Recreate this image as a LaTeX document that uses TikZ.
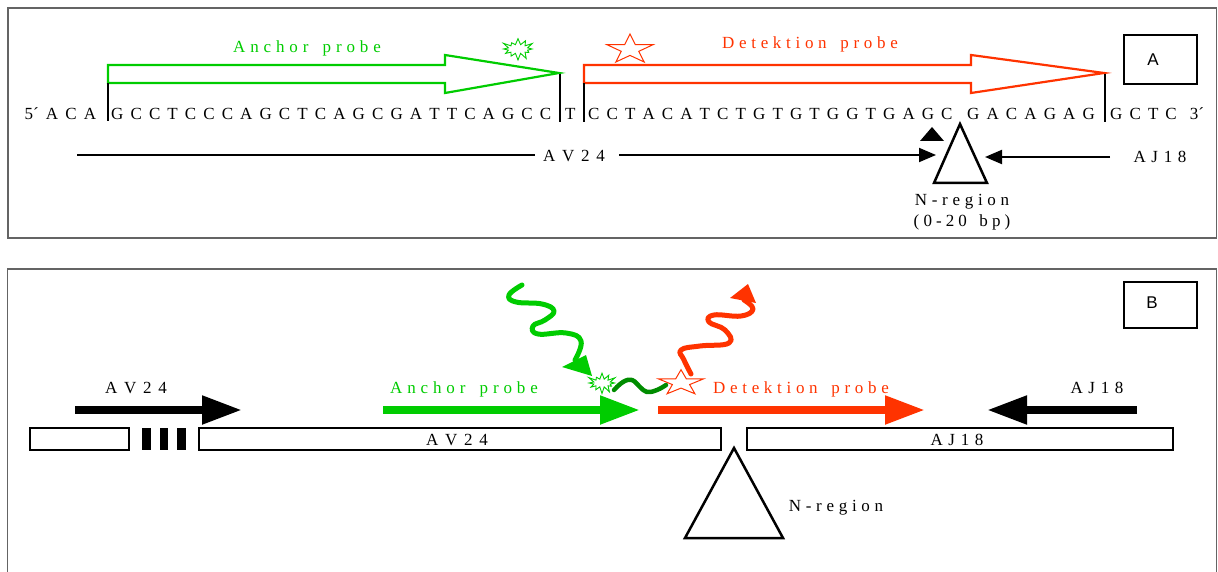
\documentclass[tikz,border=0pt]{standalone}
\usepackage{fontspec}
\setmainfont{Liberation Serif}
\newfontfamily\sansf{Liberation Sans}
\usetikzlibrary{arrows.meta,shapes.symbols}
\definecolor{agreen}{RGB}{0,204,0}
\definecolor{ared}{RGB}{255,51,0}
\definecolor{dgreen}{RGB}{0,140,0}
\definecolor{bordergray}{RGB}{100,100,100}
\newlength\lsp
\def\spcend{\spcend}
\def\spcgobble#1{}
\def\spcA#1{#1\futurelet\spcnext\spcB}
\def\spcB{\ifx\spcnext\spcend\expandafter\spcgobble\else\hspace{\lsp}\expandafter\spcA\fi}
\newcommand\ls[2]{{\setlength\lsp{#1}\spcA#2\spcend}}
\begin{document}
\begin{tikzpicture}[x=1pt,y=-1pt,
  font=\fontsize{17}{20}\selectfont,
  seq/.style={anchor=base west, inner sep=0pt},
  lbl/.style={anchor=base, inner sep=0pt},
  hollow/.style={line width=2.2pt, line join=miter},
  tick/.style={line width=1.4pt},
  thinarrow/.style={line width=2pt, -{Triangle[length=17pt,width=14pt]}},
  fatarrow/.style={line width=8pt, -{Triangle[length=40pt,width=27pt]}},
  strip/.style={draw, line width=2pt},
  wave/.style={line width=5pt, line cap=round, line join=round},
  border/.style={draw=bordergray, line width=1.5pt},
  burst/.style={starburst, draw=agreen, line width=0.9pt, starburst points=12,
     starburst point height=7pt, random starburst=60, inner sep=0pt},
  letterbox/.style={draw, line width=1.5pt, inner sep=0pt},
  boxletter/.style={font=\sansf\fontsize{17}{19}\selectfont, inner sep=0pt}
]
\useasboundingbox (0,0) rectangle (1218,572);

% ---------- Panel A ----------
\draw[border] (8,8) rectangle (1216.5,238);
\node[letterbox, minimum width=73pt, minimum height=49pt] (boxA) at (1160.5,59.5) {};
\node[boxletter] (letA) at (1153,60) {A};

\draw[agreen, hollow] (108,65) -- (445,65) -- (445,55) -- (559,73) -- (445,93) -- (445,83) -- (108,83) -- cycle;
\draw[ared, hollow] (584,65) -- (971,65) -- (971,55) -- (1104,73) -- (971,93) -- (971,83) -- (584,83) -- cycle;

\node[lbl, text=agreen] (anchA) at (307,53) {\ls{4.9pt}{Anchor~probe}};
\node[lbl, text=ared] (detA) at (810,49) {\ls{4.7pt}{Detektion~probe}};

\node[burst, minimum width=34pt, minimum height=23pt] (burstA) at (518,49) {};
\begin{scope}[shift={(630,49.5)}, xscale=1.56]
  \draw[ared, line width=1pt, line join=miter]
    (90:15.5pt) -- (126:5.9pt) -- (162:15.5pt) -- (198:5.9pt) -- (234:15.5pt) --
    (270:5.9pt) -- (306:15.5pt) -- (342:5.9pt) -- (18:15.5pt) -- (54:5.9pt) -- cycle;
\end{scope}

\draw[tick] (108,83) -- (108,121);
\draw[tick] (560,74) -- (560,122);
\draw[tick] (584,83) -- (584,122);
\draw[tick] (1105,74) -- (1105,122);

\node[seq] (s1) at (24.5,120) {\ls{7.1pt}{{5´}ACA}};
\node[seq] (s2) at (111,120) {\ls{7.1pt}{GCCTCCCAGCTCAGCGATTCAGCC}};
\node[seq] (s3) at (565,120) {T};
\node[seq] (s4) at (588,120) {\ls{7.1pt}{CCTACATCTGTGTGGTGAGC}};
\node[seq] (s5) at (967,120) {\ls{7.1pt}{GACAGAG}};
\node[seq] (s6) at (1110,120) {\ls{7.1pt}{GCTC}\hspace{13pt}3´};

\node[lbl] (av24A) at (574,162) {\ls{6.8pt}{AV24}};
\node[lbl] (aj18A) at (1160,163) {\ls{5.7pt}{AJ18}};
\coordinate (av24Astart) at (77,155);
\coordinate (av24Aleft) at (535,155);
\coordinate (av24Aright) at (619,155);
\coordinate (av24Atip) at (936,155);
\coordinate (aj18Atail) at (1110,157);
\coordinate (aj18Atip) at (985,157);
\draw[line width=2pt] (av24Astart) -- (av24Aleft);
\draw[thinarrow] (av24Aright) -- (av24Atip);
\draw[thinarrow] (aj18Atail) -- (aj18Atip);

\fill (932,127) -- (944,141) -- (920,141) -- cycle;
\draw[line width=2.5pt, line join=miter] (960,124) -- (987,183) -- (934,183) -- cycle;
\node[lbl] (nregA) at (962,206) {\ls{4.7pt}{N-region}};
\node[lbl] (bpA) at (962,227) {\ls{4.1pt}{(0-20~bp)}};

% ---------- Panel B ----------
\draw[border] (7.5,573) -- (7.5,269) -- (1216.5,269) -- (1216.5,573);
\node[letterbox, minimum width=73pt, minimum height=46pt] (boxB) at (1160.5,305) {};
\node[boxletter] (letB) at (1152,303) {B};

\node[lbl] (av24B) at (136,393) {\ls{6.8pt}{AV24}};
\node[lbl, text=agreen] (anchB) at (464,393) {\ls{4.9pt}{Anchor~probe}};
\node[lbl, text=ared] (detB) at (801,393) {\ls{4.7pt}{Detektion~probe}};
\node[lbl] (aj18B) at (1097,393) {\ls{5.7pt}{AJ18}};

\coordinate (av24Bt) at (75,410);   \coordinate (av24Bh) at (242,410);
\coordinate (anchBt) at (383,410);  \coordinate (anchBh) at (640,410);
\coordinate (detBt) at (658,410);   \coordinate (detBh) at (925,410);
\coordinate (aj18Bt) at (1137,410); \coordinate (aj18Bh) at (987,410);
\draw[fatarrow] (av24Bt) -- (av24Bh);
\draw[fatarrow, agreen] (anchBt) -- (anchBh);
\draw[fatarrow, ared] (detBt) -- (detBh);
\draw[fatarrow] (aj18Bt) -- (aj18Bh);

\draw[strip] (30,428) rectangle (129,450);
\fill (142,428) rectangle (151,450);
\fill (160,428) rectangle (168,450);
\fill (177,428) rectangle (186,450);
\draw[strip] (199,428) rectangle (721,450);
\draw[strip] (747,428) rectangle (1173,450);
\node[lbl] (av24S) at (457,445) {\ls{6.8pt}{AV24}};
\node[lbl] (aj18S) at (957,445) {\ls{5.7pt}{AJ18}};

\draw[line width=2.5pt, line join=miter] (734,448) -- (783,538) -- (685,538) -- cycle;
\node[lbl] (nregB) at (836,511) {\ls{4.7pt}{N-region}};

% waves
\draw[wave, agreen] plot[smooth, tension=0.75] coordinates
  {(522,285) (509,295) (516,302) (542,304) (554,311) (545,320) (533,326) (538,334) (566,333) (581,341) (575,360)};
\fill[agreen] (562,367) -- (586,355) -- (592,376) -- cycle;
\node[burst, minimum width=31pt, minimum height=22pt] (burstB) at (602,383) {};
\draw[wave, dgreen, line width=4.5pt] plot[smooth, tension=0.7] coordinates
  {(614,390) (623,382) (632,380) (640,387) (647,392) (657,390) (666,385)};
\begin{scope}[shift={(681,383)}, xscale=1.78]
  \draw[ared, line width=1pt, line join=miter]
    (90:13.3pt) -- (126:5.1pt) -- (162:13.3pt) -- (198:5.1pt) -- (234:13.3pt) --
    (270:5.1pt) -- (306:13.3pt) -- (342:5.1pt) -- (18:13.3pt) -- (54:5.1pt) -- cycle;
\end{scope}
\draw[wave, ared] plot[smooth, tension=0.75] coordinates
  {(691,374) (684,360) (681,350) (700,346) (729,343) (725,330) (709,322) (714,315) (741,316) (753,309) (744,300)};
\fill[ared] (730,298) -- (756,303) -- (748,284) -- cycle;
\end{tikzpicture}
\end{document}
